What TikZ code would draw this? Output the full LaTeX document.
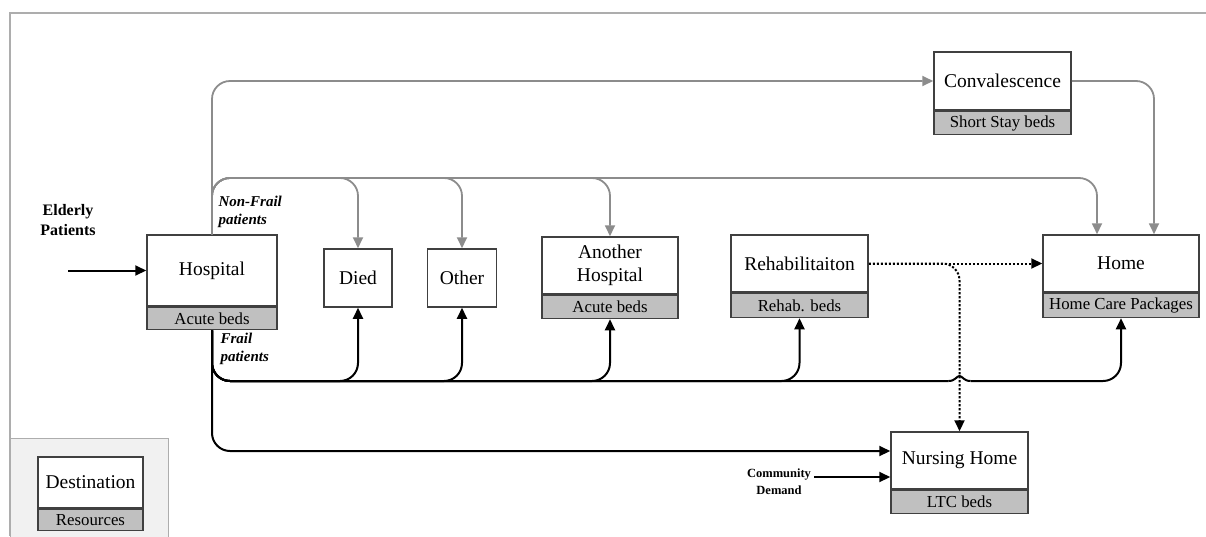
\documentclass[tikz,border=0pt]{standalone}
\usepackage{fontspec}
\setmainfont{Liberation Serif}
\usetikzlibrary{calc, arrows.meta}

\definecolor{boxline}{HTML}{404040}
\definecolor{resgray}{HTML}{C0C0C0}
\definecolor{nfgray}{HTML}{8C8C8C}
\definecolor{framegray}{HTML}{ADADAD}
\definecolor{legendfill}{HTML}{F1F1F1}

\begin{document}
\begin{tikzpicture}[x=1pt, y=-1pt,
    dest/.style={draw=boxline, fill=white, line width=1.5pt, inner sep=0pt,
        align=center, font=\fontsize{19.5}{23}\selectfont},
    res/.style={draw=boxline, fill=resgray, line width=1.5pt, inner sep=0pt,
        anchor=north, font=\fontsize{16.8}{18}\selectfont},
    frail/.style={draw=black, line width=2pt, rounded corners=18pt,
        -{Triangle[length=11pt,width=10pt]}},
    nonfrail/.style={draw=nfgray, line width=1.8pt, rounded corners=18pt,
        -{Triangle[length=11pt,width=10pt]}},
    transfer/.style={draw=black, line width=2pt, dash pattern=on 2.2pt off 1.8pt,
        rounded corners=17pt, -{Triangle[length=11pt,width=10pt]}},
    lbl/.style={font=\fontsize{16}{20}\selectfont\bfseries, align=center},
    grp/.style={font=\fontsize{15}{18}\selectfont\bfseries\itshape, align=left, anchor=west}
]

    \useasboundingbox (0,0) rectangle (1206,536);

    % 1. Frame and legend panel
    \draw[framegray, line width=1.5pt] (10,536) -- (10,13) -- (1206,13);
    \draw[draw=framegray, fill=legendfill, line width=1pt] (10,438) rectangle (168,545);

    % 2. Destinations (upper part) and their resources (lower band)
    \node[dest, minimum width=130, minimum height=71] (hosp) at (212,270.5) {Hospital};
    \node[res, minimum width=130, minimum height=22] (hospres) at (hosp.south) {Acute beds};

    \node[dest, minimum width=68, minimum height=58] (died) at (358,278) {Died};
    \node[dest, minimum width=69, minimum height=58] (other) at (462,278) {Other};

    \node[dest, minimum width=136, minimum height=57] (another) at (610,265.5) {Another\\Hospital};
    \node[res, minimum width=136, minimum height=23] (anotherres) at (another.south) {Acute beds};

    \node[dest, minimum width=137, minimum height=57] (rehab) at (799.5,263.5) {Rehabilitaiton};
    \node[res, minimum width=137, minimum height=24] (rehabres) at (rehab.south) {Rehab. beds};

    \node[dest, minimum width=156, minimum height=57] (home) at (1121,263.5) {Home};
    \node[res, minimum width=156, minimum height=24] (homeres) at (home.south) {Home Care Packages};

    \node[dest, minimum width=137, minimum height=58] (conv) at (1002.5,81) {Convalescence};
    \node[res, minimum width=137, minimum height=23] (convres) at (conv.south) {Short Stay beds};

    \node[dest, minimum width=137, minimum height=57] (nh) at (959.5,460.5) {Nursing Home};
    \node[res, minimum width=137, minimum height=23] (nhres) at (nh.south) {LTC beds};

    \node[dest, minimum width=105, minimum height=51] (legend) at (90.5,482.5) {Destination};
    \node[res, minimum width=105, minimum height=21] (legendres) at (legend.south) {Resources};

    % 3. Labels
    \node[lbl] (elderly) at (68,220) {Elderly\\Patients};
    \node[grp] (nonfrailtxt) at (215,212) {Non-Frail\\patients};
    \node[grp] (frailtxt) at (217,349) {Frail\\patients};
    \node[lbl, font=\fontsize{12.5}{17}\selectfont\bfseries] (community) at (779,482) {Community\\Demand};

    % 4. Inflows
    \draw[frail] (elderly.south |- hosp.west) -- (hosp.west);
    \draw[frail] (community.east |- {$(nh.west)+(0,16.5)$}) -- ($(nh.west)+(0,16.5)$);

    % 5. Non-frail patients (grey)
    \coordinate (nf) at (212,178);
    \draw[nonfrail] (hosp.north) |- (conv.west);
    \draw[nonfrail] (hosp.north) -- (hosp.north |- nf) -- (died.north |- nf) -- (died.north);
    \draw[nonfrail] (hosp.north) -- (hosp.north |- nf) -- (other.north |- nf) -- (other.north);
    \draw[nonfrail] (hosp.north) -- (hosp.north |- nf) -- (another.north |- nf) -- (another.north);
    \draw[nonfrail] (hosp.north) -- (hosp.north |- nf)
        -- ($(home.north |- nf)+(-24,0)$) -- ($(home.north)+(-24,0)$);
    \draw[nonfrail] (conv.east) -| ($(home.north)+(33,0)$);

    % 6. Frail patients (black), hopping over the dotted line
    \coordinate (fr) at (212,381);
    \coordinate (hop) at (nh.north |- fr);
    \draw[frail] (hospres.south) -- (hospres.south |- fr) -- (died.south |- fr) -- (died.south);
    \draw[frail] (hospres.south) -- (hospres.south |- fr) -- (other.south |- fr) -- (other.south);
    \draw[frail] (hospres.south) -- (hospres.south |- fr) -- (anotherres.south |- fr) -- (anotherres.south);
    \draw[frail] (hospres.south) -- (hospres.south |- fr) -- (rehabres.south |- fr) -- (rehabres.south);
    \draw[frail, -] (hospres.south) -- (hospres.south |- fr) -- ($(hop)+(-11,0)$);
    \draw[black, line width=2pt] ($(hop)+(-11,0)$)
        .. controls ($(hop)+(-4,0)$) and ($(hop)+(-3,-5)$) .. ($(hop)+(0,-5)$)
        .. controls ($(hop)+(3,-5)$) and ($(hop)+(4,0)$) .. ($(hop)+(11,0)$);
    \draw[frail] ($(hop)+(11,0)$) -- (homeres.south |- fr) -- (homeres.south);
    \draw[frail] (hospres.south) |- ($(nh.west)+(0,-9.5)$);

    % 7. Transfers out of rehabilitation (dotted)
    \draw[transfer] (rehab.east) -- (home.west);
    \draw[transfer] (rehab.east) -- (nh.north |- rehab.east) -- (nh.north);

\end{tikzpicture}
\end{document}
